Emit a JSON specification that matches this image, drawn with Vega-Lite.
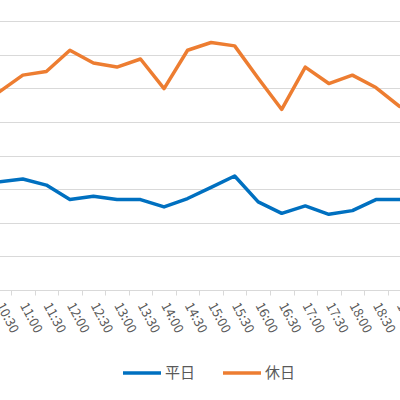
{
  "$schema": "https://vega.github.io/schema/vega-lite/v6.json",
  "width": 400,
  "height": 269,
  "autosize": {"type": "none"},
  "padding": {"top": 21, "left": 0, "right": 0, "bottom": 110},
  "background": "white",
  "config": {"view": {"stroke": null}},
  "data": {
    "values": [
      {"time": "10:30", "type": "平日", "value": 32.2},
      {"time": "11:00", "type": "平日", "value": 33.0},
      {"time": "11:30", "type": "平日", "value": 31.2},
      {"time": "12:00", "type": "平日", "value": 26.9},
      {"time": "12:30", "type": "平日", "value": 27.9},
      {"time": "13:00", "type": "平日", "value": 26.9},
      {"time": "13:30", "type": "平日", "value": 26.9},
      {"time": "14:00", "type": "平日", "value": 24.7},
      {"time": "14:30", "type": "平日", "value": 27.2},
      {"time": "15:00", "type": "平日", "value": 30.5},
      {"time": "15:30", "type": "平日", "value": 33.9},
      {"time": "16:00", "type": "平日", "value": 26.2},
      {"time": "16:30", "type": "平日", "value": 22.8},
      {"time": "17:00", "type": "平日", "value": 25.0},
      {"time": "17:30", "type": "平日", "value": 22.5},
      {"time": "18:00", "type": "平日", "value": 23.6},
      {"time": "18:30", "type": "平日", "value": 26.9},
      {"time": "19:00", "type": "平日", "value": 26.9},
      {"time": "10:30", "type": "休日", "value": 58.9},
      {"time": "11:00", "type": "休日", "value": 63.9},
      {"time": "11:30", "type": "休日", "value": 65.0},
      {"time": "12:00", "type": "休日", "value": 71.3},
      {"time": "12:30", "type": "休日", "value": 67.5},
      {"time": "13:00", "type": "休日", "value": 66.3},
      {"time": "13:30", "type": "休日", "value": 68.7},
      {"time": "14:00", "type": "休日", "value": 59.9},
      {"time": "14:30", "type": "休日", "value": 71.3},
      {"time": "15:00", "type": "休日", "value": 73.6},
      {"time": "15:30", "type": "休日", "value": 72.6},
      {"time": "16:00", "type": "休日", "value": 63.0},
      {"time": "16:30", "type": "休日", "value": 53.7},
      {"time": "17:00", "type": "休日", "value": 66.3},
      {"time": "17:30", "type": "休日", "value": 61.4},
      {"time": "18:00", "type": "休日", "value": 63.9},
      {"time": "18:30", "type": "休日", "value": 60.2},
      {"time": "19:00", "type": "休日", "value": 54.6}
    ]
  },
  "mark": {"type": "line", "strokeWidth": 3.5, "strokeCap": "round", "strokeJoin": "round", "clip": false},
  "encoding": {
    "x": {
      "field": "time",
      "type": "ordinal",
      "bandPosition": 0.5,
      "scale": {"type": "band", "range": [-12.5, 411.2], "paddingInner": 0, "paddingOuter": 0},
      "axis": {
        "title": null,
        "grid": false,
        "domainColor": "#d9d9d9",
        "domainWidth": 1,
        "tickColor": "#d9d9d9",
        "tickBand": "extent",
        "tickSize": 5,
        "labelAngle": 62,
        "labelAlign": "left",
        "labelBaseline": "middle",
        "labelPadding": 8,
        "labelFont": "Noto Sans CJK JP",
        "labelFontSize": 13,
        "labelColor": "#595959",
        "labelOverlap": false,
        "labelFlush": false,
        "labelBound": false
      }
    },
    "y": {
      "field": "value",
      "type": "quantitative",
      "scale": {"domain": [0, 80], "nice": false, "zero": true},
      "axis": {
        "title": null,
        "values": [0, 10, 20, 30, 40, 50, 60, 70, 80],
        "grid": true,
        "gridColor": "#d9d9d9",
        "gridWidth": 1,
        "labels": false,
        "ticks": false,
        "domain": false
      }
    },
    "color": {
      "field": "type",
      "type": "nominal",
      "scale": {"domain": ["平日", "休日"], "range": ["#0070C0", "#ED7D31"]},
      "legend": {
        "title": null,
        "orient": "none",
        "direction": "horizontal",
        "legendX": 121,
        "legendY": 331,
        "symbolType": "stroke",
        "symbolSize": 1444,
        "symbolStrokeWidth": 3.5,
        "labelFont": "Noto Sans CJK JP",
        "labelFontSize": 15,
        "labelColor": "#595959",
        "labelOffset": 2,
        "columnPadding": 20
      }
    }
  }
}
